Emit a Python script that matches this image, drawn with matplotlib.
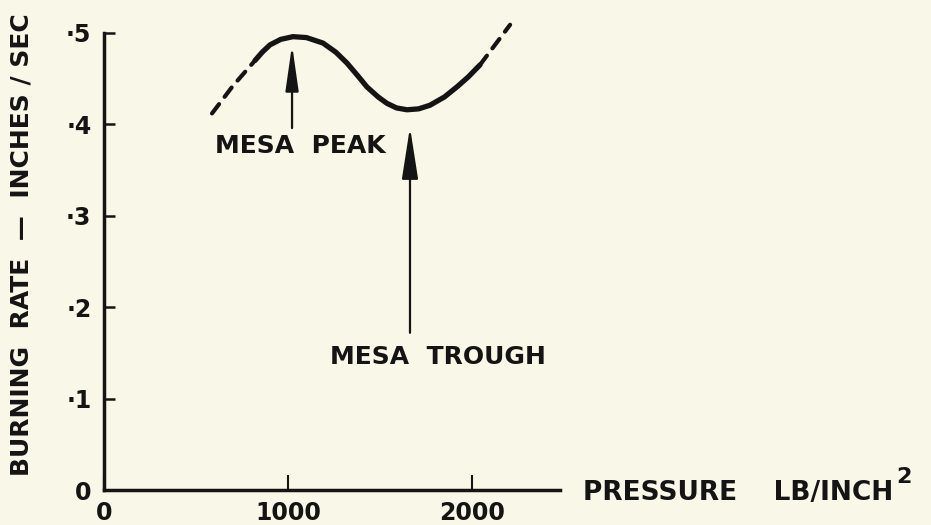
import matplotlib
matplotlib.use("Agg")
import matplotlib.pyplot as plt

# values
x_dash_left = [587, 700, 821]
y_dash_left = [0.412, 0.442, 0.470]

x_solid = [821, 860, 902, 960, 1027, 1100, 1190, 1260, 1321, 1380, 1429,
           1490, 1538, 1590, 1647, 1710, 1772, 1850, 1918, 1980, 2043]
y_solid = [0.470, 0.479, 0.487, 0.493, 0.496, 0.495, 0.489, 0.479, 0.467,
           0.453, 0.441, 0.430, 0.423, 0.418, 0.416, 0.417, 0.421, 0.430,
           0.441, 0.452, 0.465]

x_dash_right = [2043, 2207]
y_dash_right = [0.465, 0.509]

x_ticks = [0, 1000, 2000]
x_ticklabels = ["0", "1000", "2000"]
y_ticks = [0, 0.1, 0.2, 0.3, 0.4, 0.5]
y_ticklabels = ["0", "·1", "·2", "·3", "·4", "·5"]

ink = "#141414"
paper = "#f9f7e8"

plt.rcParams["font.family"] = ["DejaVu Sans"]

fig = plt.figure(figsize=(9.31, 5.25), dpi=100, facecolor=paper)
W, H = 931, 525
left, right, bottom, top = 104, 560, 490, 33
ax = fig.add_axes([left / W, 1 - bottom / H, (right - left) / W, (bottom - top) / H])
ax.set_facecolor(paper)

ax.set_xlim(0, (right - left) / 184 * 1000)
ax.set_ylim(0, 0.5)

for s in ["top", "right"]:
    ax.spines[s].set_visible(False)
for s in ["left", "bottom"]:
    ax.spines[s].set_linewidth(2.5)
    ax.spines[s].set_color(ink)
    ax.spines[s].set_capstyle("projecting")

ax.set_xticks(x_ticks)
ax.set_xticklabels(x_ticklabels)
ax.set_yticks(y_ticks)
ax.set_yticklabels(y_ticklabels)
ax.tick_params(axis="x", direction="in", length=11, width=1.5, color=ink,
               pad=8, labelsize=17, labelcolor=ink)
ax.tick_params(axis="y", direction="in", length=8, width=1.8, color=ink,
               pad=9, labelsize=17, labelcolor=ink)
for lab in ax.get_xticklabels() + ax.get_yticklabels():
    lab.set_fontweight("bold")

# curve
ax.plot(x_solid, y_solid, color=ink, lw=3.8, solid_capstyle="round",
        solid_joinstyle="round", clip_on=False)
ax.plot(x_dash_left, y_dash_left, color=ink, lw=3, dashes=(2.8, 2.2),
        dash_capstyle="round", clip_on=False)
ax.plot(x_dash_right, y_dash_right, color=ink, lw=3, dashes=(2.8, 2.2),
        dash_capstyle="round", clip_on=False)

# arrows
ax.annotate("", xy=(1022, 0.487), xytext=(1022, 0.396),
            arrowprops=dict(arrowstyle="-|>,head_length=2.8,head_width=0.4",
                            mutation_scale=10, lw=1.6, color=ink,
                            shrinkA=0, shrinkB=0))
ax.annotate("", xy=(1663, 0.397), xytext=(1663, 0.172),
            arrowprops=dict(arrowstyle="-|>,head_length=3.2,head_width=0.5",
                            mutation_scale=10, lw=1.6, color=ink,
                            shrinkA=0, shrinkB=0))

ax.text(603, 0.376, "MESA  PEAK", ha="left", va="center", fontsize=18,
        fontweight="bold", color=ink)
ax.text(1228, 0.1455, "MESA  TROUGH", ha="left", va="center", fontsize=18,
        fontweight="bold", color=ink)

# axis titles
xlab = fig.text(583 / W, 1 - 493 / H, "PRESSURE    LB/INCH", ha="left",
                va="center", fontsize=19, fontweight="bold", color=ink)
ax.annotate("2", xy=(1, 1), xycoords=xlab, xytext=(2, 2),
            textcoords="offset points", ha="left", va="center",
            fontsize=16, fontweight="bold", color=ink, annotation_clip=False)
fig.text(22 / W, 1 - 245 / H, "BURNING  RATE  —  INCHES / SEC", rotation=90,
         ha="center", va="center", fontsize=18, fontweight="bold", color=ink)

fig.savefig("out.png", dpi=100, facecolor=paper)
